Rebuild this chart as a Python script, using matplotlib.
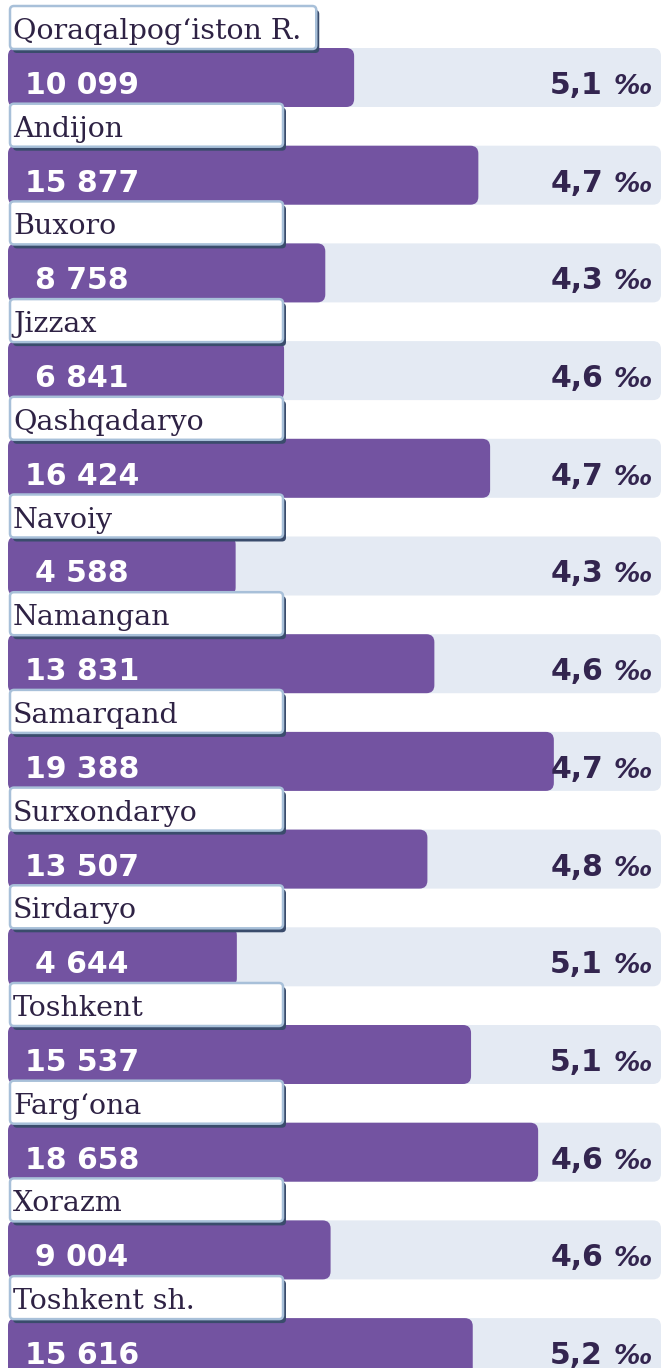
import matplotlib
matplotlib.use("Agg")
import matplotlib.pyplot as plt
from matplotlib.patches import FancyBboxPatch

# ---- data ----
regions = ["Qoraqalpog‘iston R.", "Andijon", "Buxoro", "Jizzax", "Qashqadaryo",
           "Navoiy", "Namangan", "Samarqand", "Surxondaryo", "Sirdaryo",
           "Toshkent", "Farg‘ona", "Xorazm", "Toshkent sh."]
counts = [10099, 15877, 8758, 6841, 16424, 4588, 13831, 19388, 13507, 4644,
          15537, 18658, 9004, 15616]
rates = [5.1, 4.7, 4.3, 4.6, 4.7, 4.3, 4.6, 4.7, 4.8, 5.1, 5.1, 4.6, 4.6, 5.2]

# ---- layout (pixels) ----
W, H = 663, 1368
PX0 = 137.0      # pixel position of value 0
PXS = 0.0215     # pixels per unit
UX = 1.0 / PXS   # units per pixel
ROW0, PITCH, BAR_H = 48.0, 97.7, 59.0

C_BAR = "#7353a1"
C_BG = "#e4eaf3"
C_TXT = "#33254f"
C_LBL = "#2e2244"
C_EDGE = "#a8c0d9"
C_SHADOW = "#3a4c6c"


def vx(px):
    return (px - PX0) / PXS


fig = plt.figure(figsize=(W / 100, H / 100), dpi=100)
ax = fig.add_axes([0, 0, 1, 1])
ax.set_xlim(vx(0), vx(W))
ax.set_ylim(H, 0)
ax.axis("off")


def rrect(x0, x1, y0, h, r_px, **kw):
    p = FancyBboxPatch((x0, y0), x1 - x0, h,
                       boxstyle=f"round,pad=0,rounding_size={r_px * UX}",
                       mutation_aspect=1.0 / UX, **kw)
    ax.add_patch(p)
    return p


base = vx(8)
renderer = fig.canvas.get_renderer()

for i, (name, cnt, rate) in enumerate(zip(regions, counts, rates)):
    top = ROW0 + PITCH * i
    # background track
    rrect(base, vx(661), top, BAR_H, 8, facecolor=C_BG, edgecolor="none", zorder=1)
    # value bar
    rrect(base, cnt, top, BAR_H, 8, facecolor=C_BAR, edgecolor="none", zorder=2)
    # value label
    ax.text(vx(82), top + 46, f"{cnt:,}".replace(",", " "), ha="center",
            va="baseline", color="white", fontsize=21.5, fontweight="bold",
            family="DejaVu Sans", zorder=6)
    # rate label
    ax.text(vx(603), top + 46, f"{rate:.1f}".replace(".", ","), ha="right",
            va="baseline", color=C_TXT, fontsize=21.5, fontweight="bold",
            family="DejaVu Sans", zorder=6)
    ax.text(vx(614), top + 46, "‰", ha="left", va="baseline", color=C_TXT,
            fontsize=19, style="italic", fontweight="bold",
            family="DejaVu Sans", zorder=6)

    # region label box
    btop = top - 42
    t = ax.text(vx(13), btop + 33, name, ha="left", va="baseline",
                color=C_LBL, fontsize=20.5, family="DejaVu Serif", zorder=6)
    tw = t.get_window_extent(renderer=renderer).width
    bw = max(273.0, tw + 18)
    rrect(vx(13), vx(10 + bw + 3), btop + 4, 43, 4,
          facecolor=C_SHADOW, edgecolor="none", zorder=3)
    rrect(vx(10), vx(10 + bw), btop, 43, 4, facecolor="white",
          edgecolor=C_EDGE, linewidth=1.8, zorder=4)

fig.savefig("out.png", dpi=100)
